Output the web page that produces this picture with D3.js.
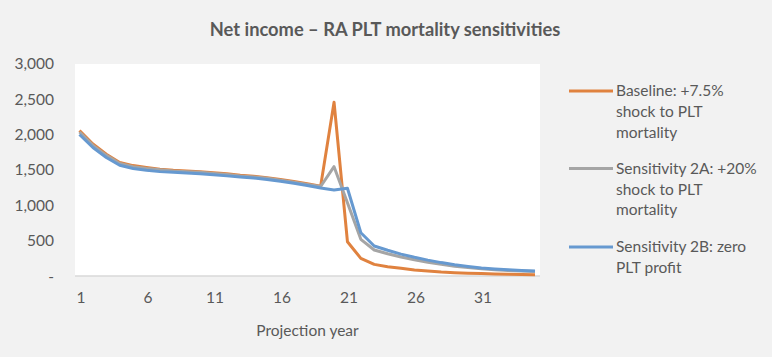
<!DOCTYPE html>
<html><head><meta charset="utf-8">
<script src="https://cdn.jsdelivr.net/npm/d3@7"></script>
<style>
html,body{margin:0;padding:0;background:#f2f2f2;}
svg{display:block;}
text{font-family:Lato,"Open Sans",sans-serif;fill:#595959;}
</style></head><body>
<svg id="c" width="772" height="357"></svg>
<script>
const years = d3.range(1, 36);
const xTickLabels = [1, 6, 11, 16, 21, 26, 31];
const yTicks = [0, 500, 1000, 1500, 2000, 2500, 3000];
const seriesNames = ["Baseline: +7.5% shock to PLT mortality", "Sensitivity 2A: +20% shock to PLT mortality", "Sensitivity 2B: zero PLT profit"];
const legendLines = [["Baseline: +7.5%", "shock to PLT", "mortality"], ["Sensitivity 2A: +20%", "shock to PLT", "mortality"], ["Sensitivity 2B: zero", "PLT profit"]];
const colors = ["#e0823f", "#a5a5a5", "#6699d0"];
const baseline = [2050,1860,1715,1600,1555,1530,1505,1490,1480,1470,1455,1440,1420,1405,1385,1360,1330,1300,1265,2450,480,245,160,127,104,80,66,52,43,35,30,25,20,17,15];
const sens2A = [2030,1840,1700,1585,1540,1515,1495,1480,1470,1460,1445,1430,1410,1395,1375,1350,1320,1290,1260,1540,1030,514,363,310,265,225,190,160,135,115,97,85,75,67,60];
const sens2B = [1995,1810,1670,1560,1515,1490,1470,1460,1450,1440,1425,1410,1395,1380,1360,1335,1305,1275,1240,1210,1235,607,420,360,305,260,220,185,155,130,108,95,85,75,66];
const allSeries = [baseline, sens2A, sens2B];

const svg = d3.select("#c");
const plot = {left: 75, right: 540, top: 64, bottom: 276};
const fs = "15.5px";

svg.append("rect").attr("x", plot.left).attr("y", plot.top)
  .attr("width", plot.right - plot.left).attr("height", plot.bottom - plot.top).attr("fill", "#ffffff");

const x = d3.scaleLinear().domain([1, 35]).range([79.5, 535]);
const y = d3.scaleLinear().domain([0, 3000]).range([275.7, 63.3]);

// title
svg.append("text").attr("x", 385).attr("y", 36).attr("text-anchor", "middle")
  .style("font-size", "18.3px").style("font-weight", "bold").text("Net income – RA PLT mortality sensitivities");

// x axis line
svg.append("line").attr("x1", plot.left).attr("x2", plot.right).attr("y1", 276).attr("y2", 276)
  .attr("stroke", "#d9d9d9").attr("stroke-width", 1.5);

// x axis labels
const xAxis = d3.axisBottom(x).tickValues(xTickLabels).tickSize(0).tickPadding(0).tickFormat(d3.format("d"));
const gx = svg.append("g").attr("transform", "translate(1,298)").call(xAxis);
gx.select(".domain").remove();
gx.selectAll("text").attr("dy", "0.35em").style("font-size", fs).style("fill", "#595959").style("font-family", "Lato,'Open Sans',sans-serif");

// y axis labels
const fmt = d3.format(",");
const yAxis = d3.axisLeft(y).tickValues(yTicks).tickSize(0).tickPadding(0).tickFormat(d => d === 0 ? "-" : fmt(d));
const gy = svg.append("g").attr("transform", "translate(54,0)").call(yAxis);
gy.select(".domain").remove();
gy.selectAll("text").attr("dy", "0.35em").style("font-size", fs).style("fill", "#595959").style("font-family", "Lato,'Open Sans',sans-serif");

// x axis title
svg.append("text").attr("x", 307.5).attr("y", 331).attr("dy", "0.35em").attr("text-anchor", "middle")
  .style("font-size", fs).text("Projection year");

// lines
const line = d3.line().x((d, i) => x(years[i])).y(d => y(d));
allSeries.forEach((s, i) => {
  svg.append("path").datum(s).attr("d", line).attr("fill", "none")
    .attr("stroke", colors[i]).attr("stroke-width", 3).attr("stroke-linejoin", "round").attr("stroke-linecap", "butt");
});

// legend
const legendY = [91, 168.5, 247];
legendLines.forEach((lines, i) => {
  const g = svg.append("g").attr("transform", `translate(0,${legendY[i]})`);
  g.append("line").attr("x1", 569).attr("x2", 613).attr("y1", 0).attr("y2", 0)
    .attr("stroke", colors[i]).attr("stroke-width", 3);
  lines.forEach((t, j) => {
    g.append("text").attr("x", 616).attr("y", j * 20.6).attr("dy", "0.35em")
      .style("font-size", fs).text(t);
  });
});
</script>
</body></html>
